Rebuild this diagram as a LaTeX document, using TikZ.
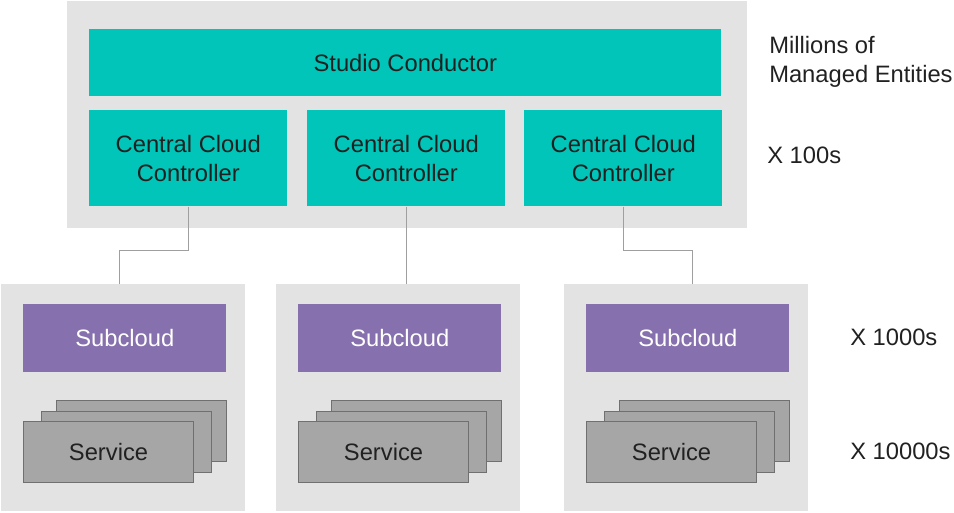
\documentclass[tikz,border=0pt]{standalone}
\usepackage{fontspec}
\setmainfont{Liberation Sans}
\usepackage{tikz}
\usetikzlibrary{calc,positioning}
\usepackage{xcolor}
\definecolor{turquoise}{RGB}{0,197,184}
\definecolor{violet}{RGB}{134,113,174}
\definecolor{fondgris}{RGB}{227,227,227}
\definecolor{gris}{RGB}{166,166,166}
\definecolor{grisfonce}{RGB}{112,112,112}
\definecolor{texte}{RGB}{33,33,33}

\begin{document}
\begin{tikzpicture}[x=0.75pt,y=-0.75pt,
  boite/.style={inner sep=0pt,anchor=north west,align=center,text=texte,
    font=\fontsize{17.8}{21.75}\selectfont},
  fond/.style={boite,fill=fondgris,minimum width=183pt,minimum height=170.25pt},
  ccc/.style={boite,fill=turquoise,minimum width=148.5pt,minimum height=72pt},
  sub/.style={boite,fill=violet,text=white,minimum width=152.25pt,minimum height=51pt},
  svc/.style={boite,fill=gris,draw=grisfonce,line width=0.8pt,minimum width=127.5pt,minimum height=45.75pt},
  lien/.style={draw=gray!75,line width=1pt},
  echelle/.style={boite,anchor=west,align=left}]
  \useasboundingbox (0,0) rectangle (954,512);
  % niveau central
  \node[boite,fill=fondgris,minimum width=510pt,minimum height=170.25pt] (haut) at (67,1) {};
  \node[boite,fill=turquoise,minimum width=474pt,minimum height=50.25pt] (studio) at (89,29) {Studio Conductor};
  \foreach \i/\x in {1/89,2/307,3/524}{
    \node[ccc] (ccc\i) at (\x,110) {Central Cloud\\Controller};
  }
  % sous-clouds
  \foreach \i/\x in {1/1,2/276,3/564}{
    \node[fond] (bas\i) at (\x,284) {};
    \node[sub] (sub\i) at (\x+22,304) {Subcloud};
    \node[svc] (svc\i c) at (\x+55,400) {};
    \node[svc] (svc\i b) at (\x+40,410.5) {};
    \node[svc] (svc\i a) at (\x+22,421) {Service};
  }
  % liens
  \draw[lien] (ccc1.south) -- ++(0,44) -| ([xshift=-2.85pt]bas1.north);
  \draw[lien] (ccc2.south) -- (ccc2.south |- bas2.north);
  \draw[lien] (ccc3.south) -- ++(0,44) -| ([xshift=4.5pt]bas3.north);
  % échelles
  \node[echelle] (millions) at (769,62) {Millions of\\Managed Entities};
  \node[echelle] (cent) at (767,155) {X 100s};
  \node[echelle] (mille) at (850,337) {X 1000s};
  \node[echelle] (dixmille) at (850,451) {X 10000s};
\end{tikzpicture}
\end{document}
